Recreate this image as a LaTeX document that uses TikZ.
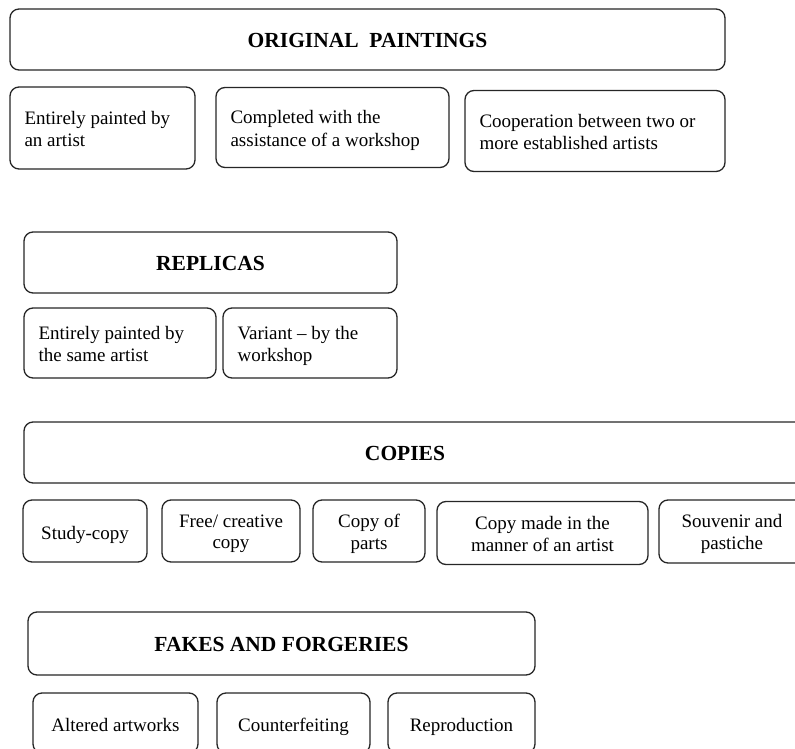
\documentclass[tikz,border=0pt]{standalone}
\usepackage{fontspec}
\setmainfont{Liberation Serif}
\newcommand\headstrut{\rule[-7pt]{0pt}{23pt}}
\newcommand\substrut{\rule[-5.5pt]{0pt}{20pt}}
\begin{document}
\begin{tikzpicture}[x=1pt,y=-1pt,
  box/.style={draw=black!85, line width=1.3pt, rounded corners=9pt, fill=white, inner sep=0pt},
  headtxt/.style={inner sep=0pt, font=\fontsize{21.5}{24}\selectfont\bfseries, align=center,
    execute at begin node={\headstrut}, execute at end node={\headstrut}},
  subltxt/.style={inner sep=0pt, anchor=west, font=\fontsize{19}{22.5}\selectfont, align=left,
    execute at begin node={\substrut}, execute at end node={\substrut}},
  subctxt/.style={inner sep=0pt, font=\fontsize{19}{21.7}\selectfont, align=center,
    execute at begin node={\substrut}, execute at end node={\substrut}}]
\useasboundingbox (0,0) rectangle (795,749);
\clip (0,0) rectangle (795,749);
% ORIGINAL PAINTINGS
\node[box, minimum width=715pt, minimum height=61pt] (orig) at (367.5,39.5) {};
\node[headtxt] (origT) at ([yshift=-3.5pt]orig.center) {ORIGINAL\hspace{0.5em}PAINTINGS};
\node[box, minimum width=185pt, minimum height=82pt] (o1) at (102.5,128) {};
\node[subltxt] (o1T) at ([xshift=15pt,yshift=-3.5pt]o1.west) {Entirely painted by\\an artist};
\node[box, minimum width=233pt, minimum height=80pt] (o2) at (332.5,127.5) {};
\node[subltxt] (o2T) at ([xshift=15pt,yshift=-3.5pt]o2.west) {Completed with the\\assistance of a workshop};
\node[box, minimum width=260pt, minimum height=81pt] (o3) at (595,131) {};
\node[subltxt] (o3T) at ([xshift=15pt,yshift=-3.5pt]o3.west) {Cooperation between two or\\more established artists};
% REPLICAS
\node[box, minimum width=373pt, minimum height=61pt] (repl) at (210.5,262.5) {};
\node[headtxt] (replT) at ([yshift=-3.5pt]repl.center) {REPLICAS};
\node[box, minimum width=192pt, minimum height=70pt] (r1) at (120,343) {};
\node[subltxt] (r1T) at ([xshift=15pt,yshift=-3.5pt]r1.west) {Entirely painted by\\the same artist};
\node[box, minimum width=174pt, minimum height=70pt] (r2) at (310,343) {};
\node[subltxt] (r2T) at ([xshift=15pt,yshift=-3.5pt]r2.west) {Variant -- by the\\workshop};
% COPIES
\node[box, minimum width=786pt, minimum height=61pt] (copies) at (417,452.5) {};
\node[headtxt] (copiesT) at (405,456) {COPIES};
\node[box, minimum width=124pt, minimum height=62pt] (c1) at (85,531) {};
\node[subctxt] (c1T) at ([yshift=-3.5pt]c1.center) {Study-copy};
\node[box, minimum width=138pt, minimum height=62pt] (c2) at (231,531) {};
\node[subctxt] (c2T) at ([yshift=-3.5pt]c2.center) {Free/ creative\\copy};
\node[box, minimum width=112pt, minimum height=62pt] (c3) at (369,531) {};
\node[subctxt] (c3T) at ([yshift=-3.5pt]c3.center) {Copy of\\parts};
\node[box, minimum width=211pt, minimum height=63pt] (c4) at (542.5,533) {};
\node[subctxt] (c4T) at ([yshift=-3.5pt]c4.center) {Copy made in the\\manner of an artist};
\node[box, minimum width=146pt, minimum height=63pt] (c5) at (732,531.5) {};
\node[subctxt] (c5T) at ([yshift=-3.5pt]c5.center) {Souvenir and\\pastiche};
% FAKES AND FORGERIES
\node[box, minimum width=507pt, minimum height=63pt] (fakes) at (281.5,643.5) {};
\node[headtxt] (fakesT) at ([yshift=-3.5pt]fakes.center) {FAKES AND FORGERIES};
\node[box, minimum width=165pt, minimum height=60pt] (f1) at (115.5,723) {};
\node[subctxt] (f1T) at ([yshift=-3.5pt]f1.center) {Altered artworks};
\node[box, minimum width=153pt, minimum height=60pt] (f2) at (293.5,723) {};
\node[subctxt] (f2T) at ([yshift=-3.5pt]f2.center) {Counterfeiting};
\node[box, minimum width=147pt, minimum height=60pt] (f3) at (461.5,723) {};
\node[subctxt] (f3T) at ([yshift=-3.5pt]f3.center) {Reproduction};
\end{tikzpicture}
\end{document}
